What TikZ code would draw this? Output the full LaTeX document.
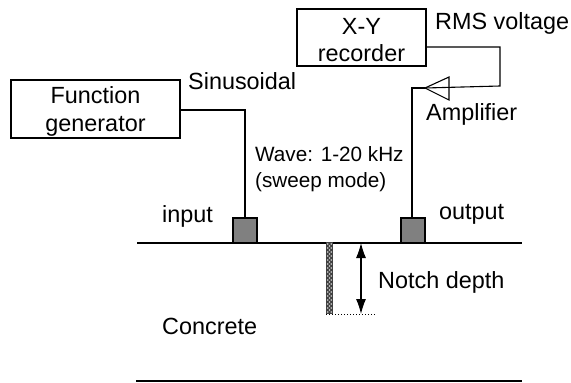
\documentclass[tikz,border=0pt]{standalone}
\usepackage{fontspec}
\setmainfont{Liberation Sans}
\usetikzlibrary{arrows.meta}
\tikzset{
  x=1pt,y=-1pt,
  box/.style={draw=black,line width=1.3pt,inner sep=0pt},
  boxtext/.style={inner sep=0pt,align=center,font=\fontsize{23.4}{27.5}\selectfont},
  lab/.style={inner sep=0pt,anchor=base west,font=\fontsize{23.4}{27}\selectfont},
  small/.style={inner sep=0pt,anchor=base west,font=\fontsize{20.7}{26}\selectfont},
  wire/.style={draw=black,line width=1.1pt},
  sensor/.style={draw=black,fill=black!50,line width=1.2pt,minimum width=24pt,minimum height=25pt,inner sep=0pt},
}
\begin{document}
\begin{tikzpicture}
\useasboundingbox (0,0) rectangle (571,383);
\node[box,minimum width=169pt,minimum height=58pt] (fg) at (95.5,109) {};
\node[boxtext] (fgt) at (95.5,111.5) {Function\\generator};
\node[box,minimum width=129pt,minimum height=57pt] (xy) at (361.5,37.5) {};
\node[boxtext] (xyt) at (361.5,40) {X-Y\\recorder};
\coordinate (sl) at (137,243);
\coordinate (sr) at (522,243);
\draw[line width=1.2pt] (sl) -- (sr);
\coordinate (bl) at (136,381);
\coordinate (br) at (522,381);
\draw[line width=1.2pt] (bl) -- (br);
\node[sensor] (in) at (245,230.5) {};
\node[sensor] (out) at (413,230.5) {};
\coordinate (w1) at (245,110);
\draw[wire] (fg.east |- w1) -- (w1) -- (in.north);
\coordinate (apex) at (425,88);
\coordinate (w2) at (500,47);
\coordinate (w3) at (500,86);
\coordinate (w4) at (412,88);
\draw[wire] (xy.east |- w2) -- (w2) -- (w3) -- (apex);
\draw[wire] (apex) -- (w4) -- (w4 |- out.north);
\draw[line width=1.1pt] (apex) -- (449,77) -- (449,100) -- cycle;
\fill[black!75] (326,242) rectangle (333,314);
\foreach \k in {0,...,17}{
  \fill[black!18] (327.8,244+4*\k) circle (0.9pt);
  \fill[black!18] (331.2,244+4*\k) circle (0.9pt);
  \ifnum\k<17 \fill[black!18] (329.5,246+4*\k) circle (0.9pt);\fi
}
\coordinate (at) at (361,243);
\coordinate (ab) at (361,314);
\draw[line width=1.1pt,{Latex[length=15pt,width=10pt]}-{Latex[length=15pt,width=10pt]}] (at) -- (ab);
\coordinate (dl) at (326,314);
\coordinate (dr) at (375,314);
\draw[line width=1pt,dotted] (dl) -- (dr);
\node[lab] (t1) at (188,89) {Sinusoidal};
\node[lab] (t2) at (435,29) {RMS voltage};
\node[lab] (t3) at (426,120.5) {Amplifier};
\node[small] (t4) at (255,161) {Wave: 1-20 kHz};
\node[small] (t5) at (255,187) {(sweep mode)};
\node[lab] (t6) at (162,222) {input};
\node[lab] (t7) at (439,219) {output};
\node[lab] (t8) at (378,288) {Notch depth};
\node[lab] (t9) at (162,334) {Concrete};
\end{tikzpicture}
\end{document}
